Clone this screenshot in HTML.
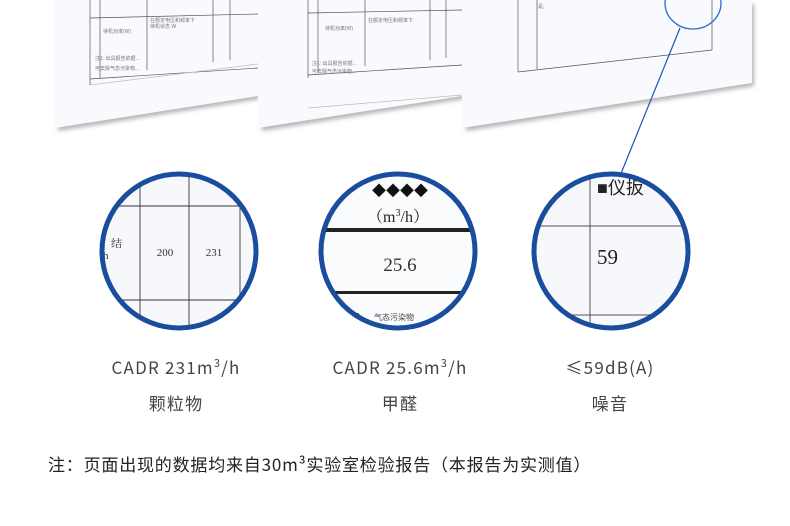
<!DOCTYPE html>
<html><head><meta charset="utf-8"><style>
html,body{margin:0;padding:0;background:#fff;}
svg{display:block;}
.s{font-family:"Liberation Sans","Noto Sans CJK SC",sans-serif;}
.r{font-family:"Liberation Serif","Noto Serif CJK SC","Noto Sans CJK SC",serif;}
.n{font-family:"Noto Sans CJK SC",sans-serif;}
</style></head><body>
<svg width="790" height="526" viewBox="0 0 790 526" xmlns="http://www.w3.org/2000/svg">
<defs>
<filter id="sh" x="-10%" y="-10%" width="120%" height="140%"><feGaussianBlur stdDeviation="2"/></filter>
<clipPath id="c1"><circle cx="179" cy="251" r="77"/></clipPath>
<clipPath id="c2"><circle cx="398" cy="251" r="77"/></clipPath>
<clipPath id="c3"><circle cx="611" cy="251" r="77"/></clipPath>
</defs>
<rect width="790" height="526" fill="#fff"/>
<polygon points="58,4 260,4 260,99 58,131" fill="#b5b5b5" filter="url(#sh)"/>
<polygon points="262,4 464,4 464,99 262,131" fill="#b5b5b5" filter="url(#sh)"/>
<polygon points="466,4 754,4 754,86 466,131" fill="#b5b5b5" filter="url(#sh)"/>
<polygon points="55,0 258,0 258,96 55,128" fill="#f9fafd"/>
<polygon points="258,0 462,0 462,96 258,128" fill="#f9fafd"/>
<polygon points="462,0 752,0 752,83 462,128" fill="#f9fafd"/>
<g stroke="#555" stroke-width="0.7" fill="none">
<line x1="90" y1="0" x2="90" y2="85"/>
<line x1="100" y1="0" x2="100" y2="78"/>
<line x1="147" y1="0" x2="147" y2="70"/>
<line x1="213" y1="0" x2="213" y2="62"/>
<line x1="230" y1="0" x2="230" y2="60"/>
<line x1="90" y1="18" x2="258" y2="14"/>
<line x1="90" y1="79" x2="258" y2="68"/>
<line x1="90" y1="85" x2="258" y2="64" stroke="#bbb"/>
<line x1="308" y1="0" x2="308" y2="78"/>
<line x1="318" y1="0" x2="318" y2="73"/>
<line x1="365" y1="0" x2="365" y2="66"/>
<line x1="430" y1="0" x2="430" y2="60"/>
<line x1="446" y1="0" x2="446" y2="58"/>
<line x1="308" y1="13" x2="462" y2="10"/>
<line x1="308" y1="75" x2="462" y2="65"/>
<line x1="308" y1="108" x2="462" y2="95" stroke="#bbb"/>
<line x1="518" y1="0" x2="518" y2="72"/>
<line x1="537" y1="0" x2="537" y2="69"/>
<line x1="518" y1="72" x2="712" y2="50"/>
<line x1="712" y1="0" x2="712" y2="50"/>
</g>
<g fill="#777" font-size="5" class="s">
<text x="103" y="33">待机功率(W)</text><text x="150" y="22">在额定电压和频率下</text><text x="150" y="28">待机状态 W</text>
<text x="95" y="60">注1: 出具报告依据...</text><text x="95" y="70">可去除气态污染物...</text>
<text x="325" y="30">待机功率(W)</text><text x="368" y="22">在额定电压和频率下</text>
<text x="312" y="65">注1: 出具报告依据...</text><text x="312" y="73">可去除气态污染物...</text>
<text x="538" y="8">是,</text>
</g>
<ellipse cx="693" cy="3" rx="28" ry="26" fill="none" stroke="#2a6cc9" stroke-width="1.3"/>
<line x1="680" y1="28" x2="620" y2="176" stroke="#1b55b5" stroke-width="1.2"/>
<g clip-path="url(#c1)">
<rect x="100" y="172" width="160" height="160" fill="#f7f8fb"/>
<g stroke="#333" stroke-width="0.9">
<line x1="100" y1="206" x2="260" y2="206"/><line x1="100" y1="300" x2="260" y2="300"/>
<line x1="140" y1="170" x2="140" y2="335"/><line x1="189" y1="170" x2="189" y2="335"/><line x1="240" y1="170" x2="240" y2="335"/>
</g>
<text x="111" y="247" font-size="11" fill="#333" class="r">结</text>
<text x="103" y="259" font-size="11" fill="#333" class="r">h</text>
<text x="165" y="256" font-size="11" text-anchor="middle" fill="#333" class="r">200</text>
<text x="214" y="256" font-size="11" text-anchor="middle" fill="#333" class="r">231</text>
</g>
<circle cx="179" cy="251" r="77" fill="none" stroke="#1a4d9e" stroke-width="5"/>
<g clip-path="url(#c2)">
<rect x="318" y="172" width="160" height="160" fill="#fafbfd"/>
<text x="400" y="196" font-size="14" text-anchor="middle" fill="#111" class="s">◆◆◆◆</text>
<text x="398" y="222" font-size="16" text-anchor="middle" fill="#222" class="r">（m<tspan font-size="10" dy="-6">3</tspan><tspan dy="6">/h）</tspan></text>
<rect x="318" y="228" width="160" height="4" fill="#222"/>
<rect x="318" y="291" width="160" height="3" fill="#222"/>
<text x="400" y="271" font-size="19" text-anchor="middle" fill="#333" class="r">25.6</text>
<text x="332" y="322" font-size="19" fill="#333" class="r">效η</text>
<text x="374" y="320" font-size="8" fill="#444" class="s">气态污染物</text>
</g>
<circle cx="398" cy="251" r="77" fill="none" stroke="#1a4d9e" stroke-width="5"/>
<g clip-path="url(#c3)">
<rect x="532" y="172" width="160" height="160" fill="#f7f8fb"/>
<g stroke="#555" stroke-width="1">
<line x1="590" y1="170" x2="590" y2="335"/>
<line x1="530" y1="226" x2="695" y2="226"/><line x1="530" y1="315" x2="695" y2="315"/>
</g>
<text x="597" y="194" font-size="18" fill="#222" class="s">■仪扳</text>
<text x="597" y="264" font-size="21" fill="#222" class="r">59</text>
<text x="597" y="340" font-size="21" fill="#222" class="r">21</text>
</g>
<circle cx="611" cy="251" r="77" fill="none" stroke="#1a4d9e" stroke-width="5"/>
<g fill="#444" font-size="17" text-anchor="middle" class="n" letter-spacing="1.2">
<text x="176" y="374">CADR 231m<tspan font-size="11" dy="-7">3</tspan><tspan dy="7">/h</tspan></text>
<text x="400" y="374">CADR 25.6m<tspan font-size="11" dy="-7">3</tspan><tspan dy="7">/h</tspan></text>
<text x="610" y="374">≤59dB(A)</text>
<text x="176" y="410">颗粒物</text>
<text x="400" y="410">甲醛</text>
<text x="610" y="410">噪音</text>
</g>
<text x="48" y="471" font-size="17" fill="#222" class="n" letter-spacing="0.8">注：页面出现的数据均来自30m³实验室检验报告（本报告为实测值）</text>
</svg>
</body></html>
